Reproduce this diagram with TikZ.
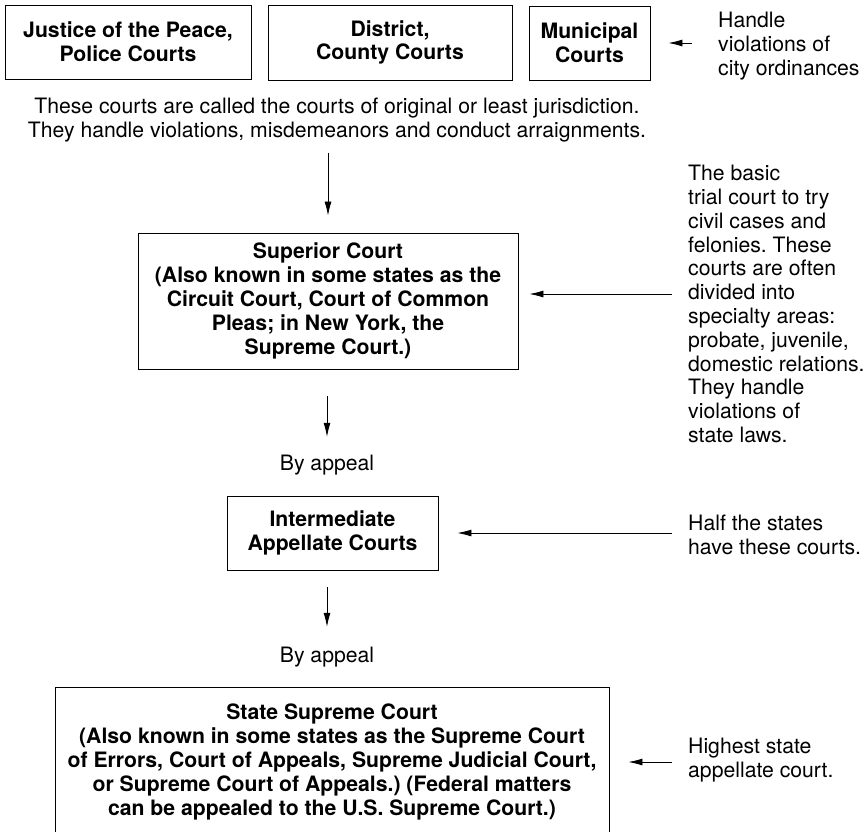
\documentclass[tikz,border=0pt]{standalone}
\usepackage{fontspec}
\setmainfont{TeX Gyre Heros}
\usetikzlibrary{arrows.meta,positioning}
\frenchspacing
\tikzset{
  court/.style={draw,line width=0.9pt,align=center,font=\bfseries\fontsize{21.2}{23.8}\selectfont,inner sep=0pt},
  note/.style={align=left,anchor=west,font=\fontsize{21.2}{23.8}\selectfont,inner sep=0pt},
  arr/.style={-{Latex[length=14pt,width=7pt]},line width=0.8pt}
}

\begin{document}
\begin{tikzpicture}[x=1pt,y=-1pt,
 lab/.style={font=\fontsize{21.2}{23.8}\selectfont,inner sep=0pt}]
\useasboundingbox (0,0) rectangle (865,831);
\node[court,minimum width=246,minimum height=74] (jp) at (128,42) {Justice of the Peace,\\Police Courts};
\node[court,minimum width=244,minimum height=75] (dc) at (390,42.5) {District,\\County Courts};
\node[court,minimum width=121,minimum height=74] (mc) at (589.5,43) {Municipal\\Courts};
\node[note] (hn) at (718,46) {Handle\\violations of\\city ordinances};
\node[lab,align=center] (cap) at (337,120) {These courts are called the courts of original or least jurisdiction.\\They handle violations, misdemeanors and conduct arraignments.};
\node[court,minimum width=380,minimum height=136] (sup) at (328,301) {Superior Court\\(Also known in some states as the\\Circuit Court, Court of Common\\Pleas; in New York, the\\Supreme Court.)};
\node[note] (sn) at (688,304) {The basic\\trial court to try\\civil cases and\\felonies. These\\courts are often\\divided into\\specialty areas:\\probate, juvenile,\\domestic relations.\\They handle\\violations of\\state laws.};
\node[lab] (ba1) at (327,465) {By appeal};
\node[court,minimum width=211,minimum height=74] (ia) at (332.5,533) {Intermediate\\Appellate Courts};
\node[note] (hs) at (688,535) {Half the states\\have these courts.};
\node[lab] (ba2) at (327,657) {By appeal};
\node[court,minimum width=554,minimum height=150] (ssc) at (332,762) {State Supreme Court\\(Also known in some states as the Supreme Court\\of Errors, Court of Appeals, Supreme Judicial Court,\\or Supreme Court of Appeals.) (Federal matters\\can be appealed to the U.S. Supreme Court.)};
\node[note] (hi) at (688,760) {Highest state\\appellate court.};
\coordinate (supin) at ([yshift=7pt]sup.east);
\draw[arr,shorten <=26pt,shorten >=18pt] (hn.west |- mc.east) -- (mc.east);
\draw[arr,shorten >=17pt] ([yshift=80pt]sup.north) -- (sup.north);
\draw[arr,shorten <=16pt,shorten >=11pt] (sn.west |- supin) -- (supin);
\draw[arr,shorten <=27pt,shorten >=18pt] (ba1.north |- sup.south) -- (ba1.north);
\draw[arr,shorten <=16pt,shorten >=19pt] (hs.west |- ia.east) -- (ia.east);
\draw[arr,shorten <=17pt,shorten >=20pt] (ba2.north |- ia.south) -- (ba2.north);
\draw[arr,shorten <=16pt,shorten >=19pt] (hi.west |- ssc.east) -- (ssc.east);
\end{tikzpicture}
\end{document}
